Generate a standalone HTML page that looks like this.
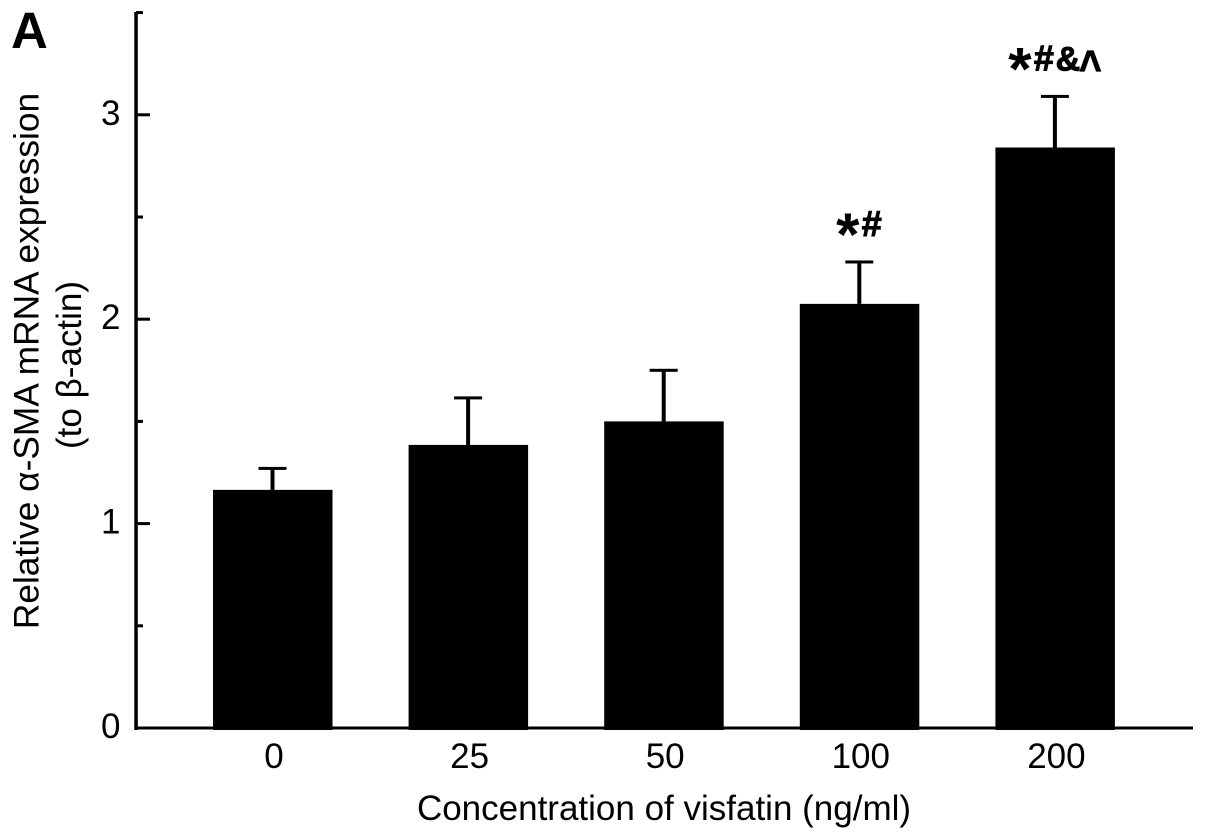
<!DOCTYPE html>
<html>
<head>
<meta charset="utf-8">
<style>
html,body{margin:0;padding:0;background:#fff;width:1205px;height:840px;overflow:hidden}
svg{display:block}
text{font-family:"Liberation Sans",sans-serif;fill:#000}
</style>
</head>
<body>
<svg id="chart" width="1205" height="840" viewBox="0 0 1205 840" xmlns="http://www.w3.org/2000/svg">
<text x="11" y="48" font-size="51" font-weight="bold">A</text>
<text transform="translate(38.5,361) rotate(-90)" text-anchor="middle" font-size="35.3">Relative α-SMA mRNA expression</text>
<text transform="translate(81,365) rotate(-90)" text-anchor="middle" font-size="35">(to β-actin)</text>
<text x="664" y="820" text-anchor="middle" font-size="35">Concentration of visfatin (ng/ml)</text>
<g id="marks"></g>
</svg>
<script>
var categories = ['0', '25', '50', '100', '200'];
var means = [1.165, 1.385, 1.5, 2.075, 2.84];
var errorTops = [1.27, 1.615, 1.75, 2.28, 3.09];
var annotations = ['', '', '', '*#', '*#&^'];
var majorTicks = [0, 1, 2, 3];
var minorTicks = [0.5, 1.5, 2.5, 3.5];

var NS = 'http://www.w3.org/2000/svg';
var marks = document.getElementById('marks');
function yScale(v) { return 728 - v * 204.4; }
function xScale(i) { return 272.5 + i * 195.6; }
function add(tag, attrs, text) {
  var el = document.createElementNS(NS, tag);
  for (var k in attrs) el.setAttribute(k, attrs[k]);
  if (text !== undefined) el.textContent = text;
  marks.appendChild(el);
  return el;
}
function glyphStyle(ch) {
  if (ch === '*') return { size: 60, ink: 22, gap: 3, dy: 18, sy: 1, stroke: 0 };
  if (ch === '#') return { size: 36, ink: 20, gap: 2, dy: -1, sy: 1, stroke: 1 };
  if (ch === '&') return { size: 34, ink: 24, gap: 0, dy: -1, sy: 1, stroke: 1 };
  return { size: 38, ink: 21, gap: 0, dy: 11, sy: 1.2, stroke: 1 };
}
var el;
categories.forEach(function (c, i) {
  var cx = xScale(i);
  var top = yScale(means[i]);
  var err = yScale(errorTops[i]);
  el = add('rect', { x: cx - 59.5, y: top, width: 119.5, height: 730 - top, fill: '#000' });
  
  
  el = add('rect', { x: cx - 2, y: err, width: 4, height: top - err, fill: '#000' });
  
  
  el = add('rect', { x: cx - 14, y: err - 1.5, width: 28, height: 3, fill: '#000' });
  
  
  el = add('text', { x: cx + 1.5, y: 768, 'text-anchor': 'middle', 'font-size': 35 }, c);
  
  
  var label = annotations[i];
  if (label) {
    var chars = label.split('');
    var total = 0;
    chars.forEach(function (ch, j) {
      var g = glyphStyle(ch);
      total += g.ink + (j < chars.length - 1 ? g.gap : 0);
    });
    var pen = cx - total / 2;
    var base = err - 25;
    chars.forEach(function (ch, j) {
      var s = glyphStyle(ch);
      var gx = pen + s.ink / 2;
      var gy = base + s.dy;
      el = add('text', {
        'text-anchor': 'middle',
        'font-size': s.size,
        'font-weight': 'bold',
        stroke: '#000',
        'stroke-width': s.stroke,
        transform: 'translate(' + gx + ',' + gy + ') scale(1,' + s.sy + ')'
      }, ch);
      
      
      pen += s.ink + s.gap;
    });
  }
});
el = add('rect', { x: 134.3, y: 12, width: 3.5, height: 718, fill: '#000' });


el = add('rect', { x: 134.3, y: 726.5, width: 1058.7, height: 3, fill: '#000' });


majorTicks.forEach(function (t) {
  if (t > 0) {
    el = add('rect', { x: 136, y: yScale(t) - 1.5, width: 14, height: 3, fill: '#000' });
    
    
  }
  el = add('text', { x: 120.5, y: yScale(t) + 10, 'text-anchor': 'end', 'font-size': 35 }, String(t));
  
  
});
minorTicks.forEach(function (t) {
  el = add('rect', { x: 136, y: yScale(t) - 1.5, width: 7, height: 3, fill: '#000' });
  
  
});
</script>
</body>
</html>
